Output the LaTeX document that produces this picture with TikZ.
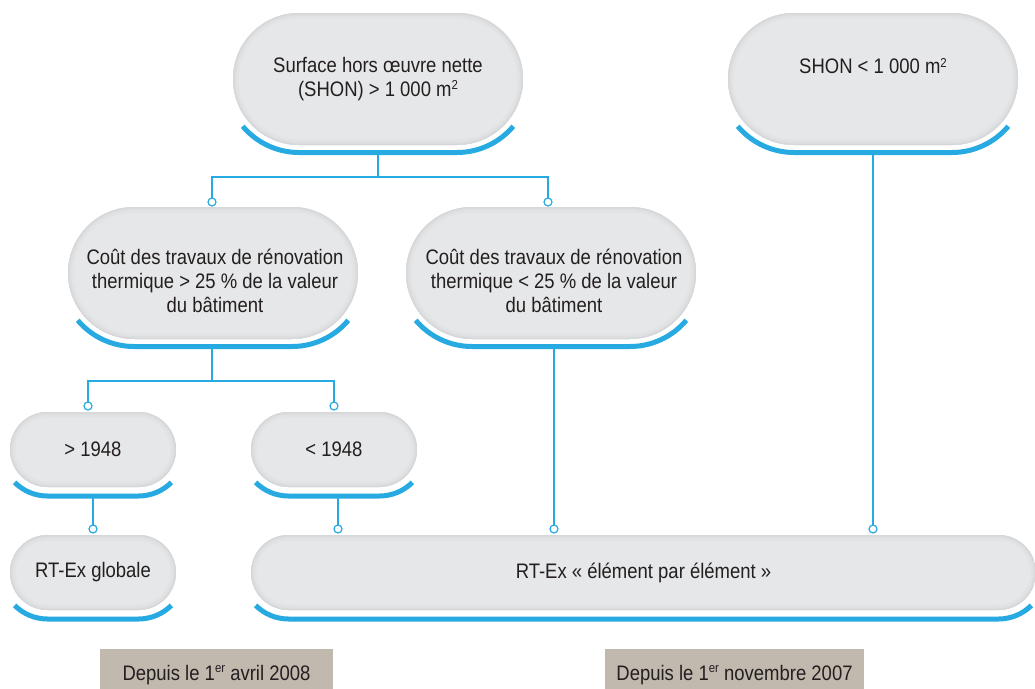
\documentclass[tikz,border=0pt]{standalone}
\usepackage{fontspec}
\setmainfont{Liberation Sans}[FakeStretch=0.88]
\usetikzlibrary{calc}
\definecolor{pillgray}{HTML}{E6E7E8}
\definecolor{shA}{HTML}{E2E3E4}
\definecolor{shB}{HTML}{DDDEDF}
\definecolor{shC}{HTML}{D6D7D9}
\definecolor{cyanblue}{HTML}{27AAE1}
\definecolor{tanbg}{HTML}{C2B9AE}
\definecolor{ink}{HTML}{231F20}
\newcommand\supnum[1]{\raisebox{6.5pt}{\fontsize{13}{13}\selectfont #1}}
\newcommand\supord[1]{\raisebox{7.5pt}{\fontsize{13}{13}\selectfont #1}}
% blue arc under a pill: node, corner radius, arc radius, start angle
\newcommand\pillarc[4]{\draw[bluearc] ($(#1.west)+(#2,0)+(#4:#3)$) arc[start angle=#4,end angle=270,radius=#3] -- ($(#1.east)+(-#2,0)+(0,-#3)$) arc[start angle=270,end angle=540-#4,radius=#3];}
\tikzset{
  pill/.style={fill=pillgray, inner sep=0pt, outer sep=0pt,
    align=center, text=ink, font=\fontsize{21}{24}\selectfont, rounded corners=#1,
    path picture={
      \draw[shA, line width=11pt, rounded corners=#1] (path picture bounding box.south west) rectangle (path picture bounding box.north east);
      \draw[shB, line width=6pt, rounded corners=#1] (path picture bounding box.south west) rectangle (path picture bounding box.north east);
      \draw[shC, line width=2.5pt, rounded corners=#1] (path picture bounding box.south west) rectangle (path picture bounding box.north east);
    }},
  bigpill/.style={pill=66pt, minimum width=290pt, minimum height=132pt},
  smallpill/.style={pill=37.5pt, minimum width=166pt, minimum height=75pt},
  widepill/.style={pill=37.5pt, minimum width=785pt, minimum height=75pt},
  pilltext/.style={inner sep=0pt, align=center, text=ink, font=\fontsize{21}{24}\selectfont},
  tanbox/.style={fill=tanbg, inner sep=0pt, outer sep=0pt, text=ink, font=\fontsize{21}{24}\selectfont},
  conn/.style={draw=cyanblue, line width=1.8pt},
  bluearc/.style={draw=cyanblue, line width=5pt},
  dot/.style={circle, draw=cyanblue, fill=white, line width=1.2pt, minimum size=8pt, inner sep=0pt}
}
\begin{document}
\begin{tikzpicture}[x=1pt,y=1pt]
\useasboundingbox (0,0) rectangle (1035,-688);
\clip (0,0) rectangle (1035,-688);
% nodes
\node[bigpill] (top1) at (378,-79) {Surface hors œuvre nette\\(SHON) > 1~000 m\supnum{2}};
\node[bigpill] (top2) at (873,-79) {};
\node[pilltext] (top2t) at (873,-66) {SHON < 1~000 m\supnum{2}};
\node[bigpill] (mid1) at (213,-273) {};
\node[pilltext] (mid1t) at (215,-281) {Coût des travaux de rénovation\\thermique > 25 \% de la valeur\\du bâtiment};
\node[bigpill] (mid2) at (551,-273) {};
\node[pilltext] (mid2t) at (554,-281) {Coût des travaux de rénovation\\thermique < 25 \% de la valeur\\du bâtiment};
\node[smallpill] (b1) at (93,-449.5) {> 1948};
\node[smallpill] (b2) at (334,-449.5) {< 1948};
\node[smallpill] (rt1) at (93,-572.5) {RT-Ex globale};
\node[widepill] (rt2) at (643.5,-572.5) {RT-Ex «~élément par élément~»};
\node[tanbox, minimum width=233pt, minimum height=52pt] (lab1) at (216.5,-675) {Depuis le 1\supord{er} avril 2008};
\node[tanbox, minimum width=259pt, minimum height=52pt] (lab2) at (734.5,-675) {Depuis le 1\supord{er} novembre 2007};
% blue arcs
\pillarc{top1}{66}{73.5}{220}
\pillarc{top2}{66}{73.5}{220}
\pillarc{mid1}{66}{73.5}{220}
\pillarc{mid2}{66}{73.5}{220}
\pillarc{b1}{37.5}{46.5}{225}
\pillarc{b2}{37.5}{46.5}{225}
\pillarc{rt1}{37.5}{46.5}{225}
\pillarc{rt2}{37.5}{46.5}{225}
% dot positions
\coordinate (d1) at ($(mid1.north)+(-1,5)$);
\coordinate (d2) at ($(mid2.north)+(-3,5)$);
\coordinate (d3) at ($(b1.north)+(-5,6)$);
\coordinate (d4) at ($(b2.north)+(0,6)$);
\coordinate (d5) at ($(rt1.north)+(0,6)$);
\coordinate (d6) at (338,-529);
\coordinate (d7) at (554,-529);
\coordinate (d8) at (873,-529);
% connectors
\draw[conn] ($(top1.south)+(0,-8)$) -- ++(0,-24) -| (d1);
\draw[conn] ($(top1.south)+(0,-32)$) -| (d2);
\draw[conn] ($(mid1.south)+(-1,-8)$) -- ++(0,-34) -| (d3);
\draw[conn] ($(mid1.south)+(-1,-42)$) -| (d4);
\draw[conn] ($(b1.south)+(0,-9.5)$) -- (d5);
\draw[conn] ($(b2.south)+(4,-9.5)$) -- (d6);
\draw[conn] ($(mid2.south)+(3,-8)$) -- (d7);
\draw[conn] ($(top2.south)+(0,-8)$) -- (d8);
% dots
\foreach \d in {d1,d2,d3,d4,d5,d6,d7,d8} {\node[dot] (dot-\d) at (\d) {};}
\end{tikzpicture}
\end{document}
